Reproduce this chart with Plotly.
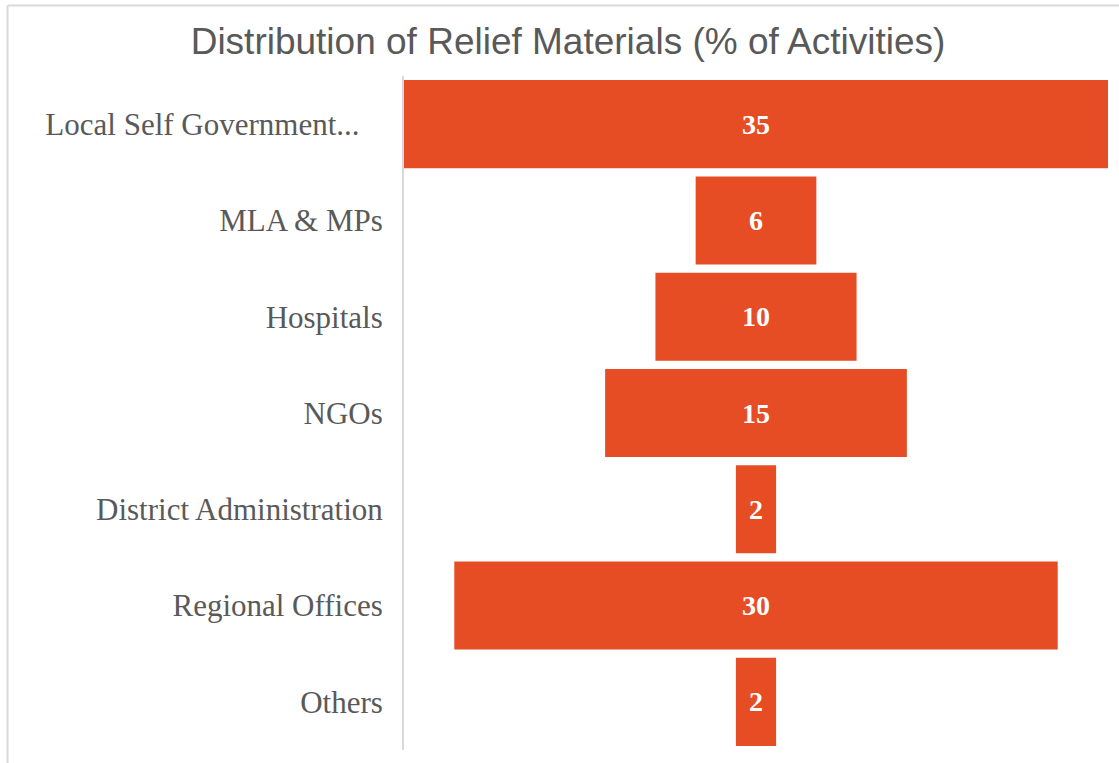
import plotly.graph_objects as go

# Relief material distribution, top of funnel first
categories = [
    "Local Self Government...",
    "MLA & MPs",
    "Hospitals",
    "NGOs",
    "District Administration",
    "Regional Offices",
    "Others",
]
values = [35, 6, 10, 15, 2, 30, 2]

W, H = 1119, 763
ML, MR, MT, MB = 404, 11, 76, 13
plot_w = W - ML - MR
plot_h = H - MT - MB

BAR_COLOR = "#E64D24"
TEXT_GRAY = "#595959"
LINE_GRAY = "#D9D9D9"

# the first (truncated) label sits a little further from the axis
tick_text = [categories[0] + "\u00a0\u00a0\u00a0"] + categories[1:]

fig = go.Figure(
    go.Funnel(
        y=categories,
        x=values,
        marker=dict(color=BAR_COLOR, line=dict(width=0)),
        connector=dict(visible=False),
        textinfo="value",
        textposition="inside",
        insidetextanchor="middle",
        textfont=dict(family="Georgia, 'Liberation Serif', serif", size=28, color="white", weight="bold"),
        constraintext="none",
    )
)


def px_x(px):
    return (px - ML) / plot_w


def px_y(py):
    return (H - MB - py) / plot_h


# outer frame: light rules along the top and left edges
fig.add_shape(type="line", xref="paper", yref="paper",
              x0=px_x(7.5), x1=px_x(W + 5), y0=px_y(5.5), y1=px_y(5.5),
              line=dict(color=LINE_GRAY, width=2))
fig.add_shape(type="line", xref="paper", yref="paper",
              x0=px_x(7.5), x1=px_x(7.5), y0=px_y(5.5), y1=px_y(H + 5),
              line=dict(color=LINE_GRAY, width=2))

fig.update_layout(
    width=W,
    height=H,
    margin=dict(l=ML, r=MR, t=MT, b=MB, pad=0),
    paper_bgcolor="white",
    plot_bgcolor="white",
    showlegend=False,
    funnelgap=0.085,
    title=dict(
        text="Distribution of Relief Materials (% of Activities)",
        x=568 / W,
        xanchor="center",
        xref="container",
        y=1 - 41 / H,
        yanchor="middle",
        yref="container",
        font=dict(family="'Liberation Sans', Arial, sans-serif", size=37, color=TEXT_GRAY),
    ),
    xaxis=dict(
        visible=False,
        range=[-max(values) / 2, max(values) / 2],
        fixedrange=True,
    ),
    yaxis=dict(
        tickmode="array",
        tickvals=categories,
        ticktext=tick_text,
        ticks="",
        ticklabelstandoff=13,
        tickfont=dict(family="'Liberation Serif', 'Times New Roman', serif", size=31, color=TEXT_GRAY),
        showline=True,
        linecolor=LINE_GRAY,
        linewidth=2,
        showgrid=False,
        zeroline=False,
    ),
)

fig.write_html("out.html")
